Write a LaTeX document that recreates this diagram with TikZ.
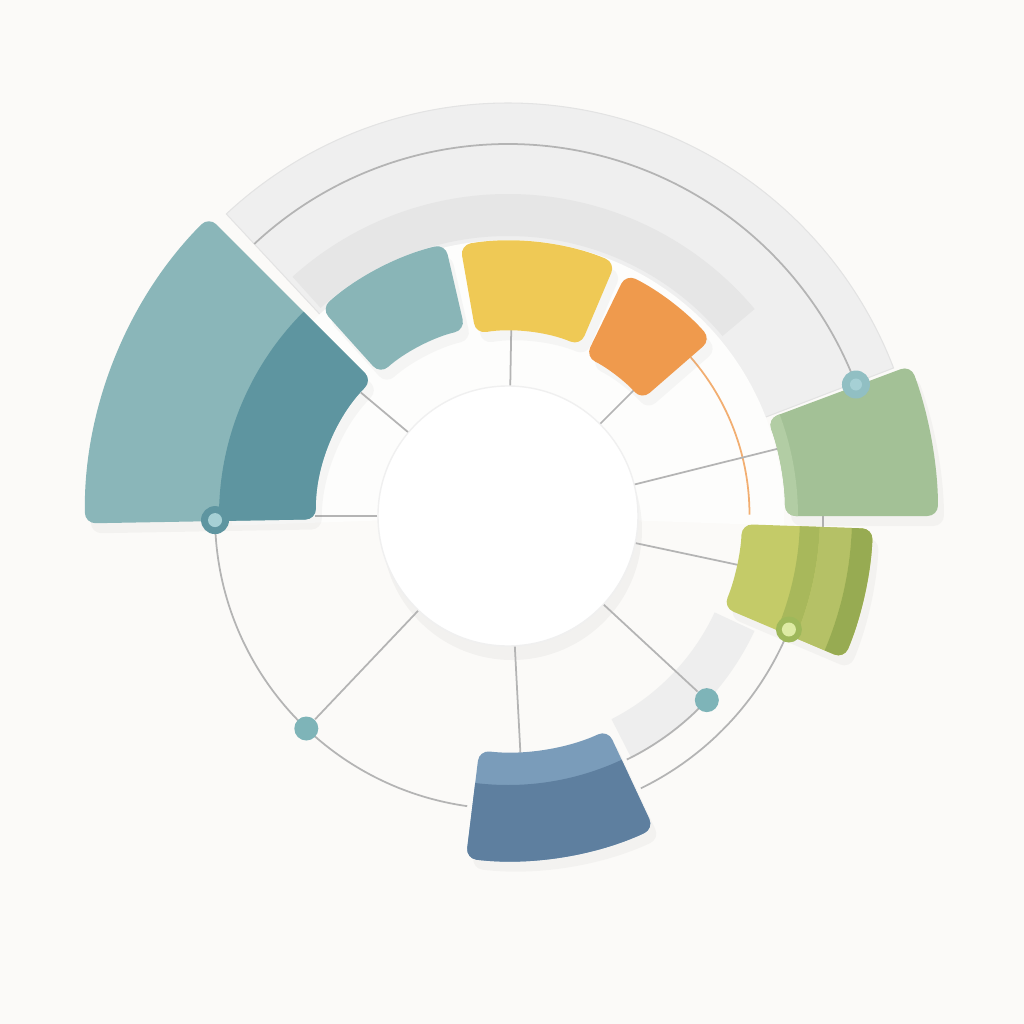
\documentclass[tikz,border=0pt]{standalone}
\usepackage{tikz}
\usetikzlibrary{shadows}

\definecolor{paper}{HTML}{FBFAF8}
\definecolor{bandgray}{HTML}{EFEFEF}
\definecolor{recessgray}{HTML}{E6E6E6}
\definecolor{stripgray}{HTML}{EEEEEE}
\definecolor{linegray}{HTML}{B4B4B4}
\definecolor{tealLight}{HTML}{8AB6B9}
\definecolor{tealDark}{HTML}{5E95A0}
\definecolor{tealSmall}{HTML}{89B5B7}
\definecolor{sunYellow}{HTML}{EFC955}
\definecolor{tangerine}{HTML}{EF9A4D}
\definecolor{sage}{HTML}{A3C196}
\definecolor{sageLight}{HTML}{B2CDA4}
\definecolor{limeBase}{HTML}{C4CB68}
\definecolor{limeMid}{HTML}{A8B85B}
\definecolor{limeBand}{HTML}{B5C166}
\definecolor{limeDark}{HTML}{97AB52}
\definecolor{steelLight}{HTML}{7A9CBA}
\definecolor{steelDark}{HTML}{5E7F9F}
\definecolor{dotteal}{HTML}{7EB4B8}
\definecolor{dotshine}{HTML}{A6D0D5}
\definecolor{limering}{HTML}{9EB85A}
\definecolor{limeshine}{HTML}{DDEBA3}

% annular piece: start angle, end angle, inner radius, outer radius
\newcommand{\ringpath}[4]{(#1:#4) arc[start angle=#1,end angle=#2,radius=#4] -- (#2:#3) arc[start angle=#2,end angle=#1,radius=#3] -- cycle}

\tikzset{
  piece/.style={rounded corners=3pt},
  softshadow/.style={drop shadow={opacity=0.06,shadow xshift=0.6mm,shadow yshift=-1mm}},
  arcline/.style={draw=linegray,line width=0.5pt},
  spoke/.style={draw=linegray,line width=0.5pt},
  hub/.style={circle,minimum size=2.6cm,inner sep=0pt,fill=white,draw=gray!12,
    drop shadow={opacity=0.07,shadow xshift=0.4mm,shadow yshift=-1.4mm}},
  dotnode/.style={circle,minimum size=0.24cm,inner sep=0pt,fill=dotteal}
}

\begin{document}
\begin{tikzpicture}
	\useasboundingbox (-5.08,-5.08) rectangle (5.16,5.16);
	\fill[paper] (-5.08,-5.08) rectangle (5.16,5.16);

	% gray bands
	\path[fill=bandgray,draw=gray!22,line width=0.3pt] \ringpath{21}{133}{2.75}{4.13};
	\fill[recessgray] \ringpath{40}{132}{2.80}{3.22};
	\fill[white!60!paper] \ringpath{-2}{182}{1.30}{2.76};
	\fill[stripgray] \ringpath{-63}{-25}{2.28}{2.72};

	% guide arcs
	\draw[arcline] (133:3.72) arc[start angle=133,end angle=20.7,radius=3.72];
	\draw[arcline] (180.8:2.93) arc[start angle=180.8,end angle=262,radius=2.93];
	\draw[arcline] (-64:3.03) arc[start angle=-64,end angle=-22,radius=3.03];
	\draw[arcline] (-64:2.71) arc[start angle=-64,end angle=-42.8,radius=2.71];
	\draw[tangerine!80,line width=0.5pt] (41:2.42) arc[start angle=41,end angle=0,radius=2.40];

	% hub and spokes
	\node[hub] (hub) at (0,0) {};
	\node[dotnode] (dotSW) at (-133.5:2.93) {};
	\node[dotnode] (dotSE) at (-42.8:2.71) {};
	\coordinate (tealIn) at (180:1.93);
	\coordinate (tealMid) at (140:1.92);
	\coordinate (yellowIn) at (89:1.86);
	\coordinate (orangeIn) at (45:1.78);
	\coordinate (greenIn) at (14:2.78);
	\coordinate (limeIn) at (-12:2.35);
	\coordinate (steelIn) at (-87:2.37);
	\coordinate (greenFoot) at (3.15,0.03);
	\coordinate (limeHead) at (3.15,-0.12);
	\draw[spoke] (hub) -- (tealIn);
	\draw[spoke] (hub) -- (tealMid);
	\draw[spoke] (hub) -- (yellowIn);
	\draw[spoke] (hub) -- (orangeIn);
	\draw[spoke] (hub) -- (greenIn);
	\draw[spoke] (hub) -- (limeIn);
	\draw[spoke] (hub) -- (steelIn);
	\draw[spoke] (hub) -- (dotSE);
	\draw[spoke] (hub) -- (dotSW);
	\draw[spoke] (greenFoot) -- (limeHead);

	% big teal piece
	\path[fill=tealLight,piece,softshadow] \ringpath{135}{181}{1.92}{4.23};
	\begin{scope}
		\clip[piece] \ringpath{135}{181}{1.92}{4.23};
		\fill[tealDark] \ringpath{130}{186}{1.80}{2.89};
	\end{scope}

	% upper pieces
	\path[fill=tealSmall,piece,softshadow] \ringpath{103}{132}{1.91}{2.79};
	\path[fill=sunYellow,piece,softshadow] \ringpath{67}{100}{1.85}{2.75};
	\path[fill=tangerine,piece,softshadow] \ringpath{41}{64}{1.77}{2.69};

	% green piece
	\path[fill=sage,piece,softshadow] \ringpath{0}{20.5}{2.77}{4.30};
	\begin{scope}
		\clip[piece] \ringpath{0}{20.5}{2.77}{4.30};
		\fill[sageLight] \ringpath{-5}{25}{2.60}{2.90};
	\end{scope}

	% lime piece
	\path[fill=limeBase,piece,softshadow] \ringpath{-23}{-2}{2.34}{3.65};
	\begin{scope}
		\clip[piece] \ringpath{-23}{-2}{2.34}{3.65};
		\fill[limeMid] \ringpath{-28}{3}{2.92}{3.12};
		\fill[limeBand] \ringpath{-28}{3}{3.12}{3.44};
		\fill[limeDark] \ringpath{-28}{3}{3.44}{3.80};
	\end{scope}

	% steel piece
	\path[fill=steelLight,piece,softshadow] \ringpath{-97}{-65}{2.36}{3.45};
	\begin{scope}
		\clip[piece] \ringpath{-97}{-65}{2.36}{3.45};
		\fill[steelDark] \ringpath{-100}{-60}{2.69}{3.60};
	\end{scope}

	% dots on the arcs
	\node[dotnode,fill=tealDark,minimum size=0.28cm] (dotW) at (180.8:2.93) {};
	\fill[dotshine] (dotW) circle (0.07);
	\node[dotnode,fill=dotteal!85!white,minimum size=0.28cm] (dotNE) at (20.7:3.72) {};
	\fill[dotshine] (dotNE) circle (0.06);
	\node[dotnode,fill=limering,minimum size=0.26cm] (dotE) at (-22:3.03) {};
	\fill[limeshine] (dotE) circle (0.07);
\end{tikzpicture}
\end{document}
